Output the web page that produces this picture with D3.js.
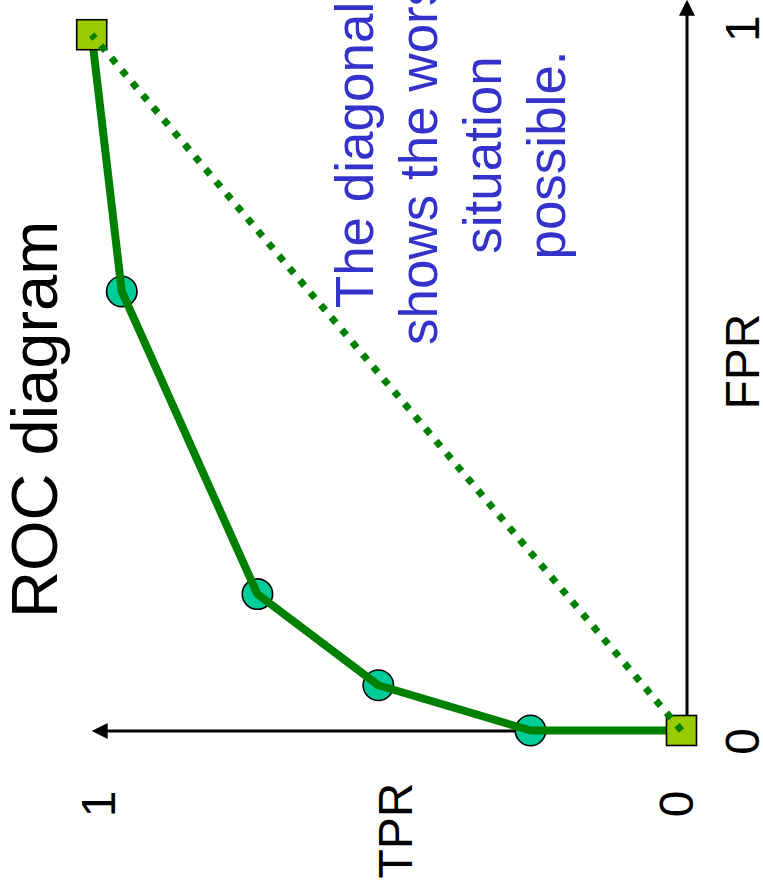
<!DOCTYPE html>
<html>
<head>
<meta charset="utf-8">
<script src="https://cdn.jsdelivr.net/npm/d3@7"></script>
<style>
  html, body { margin: 0; padding: 0; background: #ffffff; }
  svg { display: block; }
  text { font-family: "Liberation Sans", Arial, Helvetica, sans-serif; }
</style>
</head>
<body>
<script>
// ROC points (false positive rate vs. true positive rate)
const fpr = [0, 0, 0.065, 0.196, 0.631, 1];
const tpr = [0, 0.256, 0.514, 0.719, 0.949, 1];
const markerShape = ["square", "circle", "circle", "circle", "circle", "square"];

// Chance diagonal
const diagFpr = [0, 1];
const diagTpr = [0, 1];

const fprTicks = [0, 1];
const tprTicks = [0, 1];
const fprTickLabels = ["0", "1"];
const tprTickLabels = ["0", "1"];

const titleText = "ROC diagram";
const xAxisTitle = "FPR";
const yAxisTitle = "TPR";
const noteLines = ["The diagonal", "shows the worst", "situation", "possible."];

const W = 763, H = 889;

const svg = d3.select("body").append("svg")
  .attr("width", W)
  .attr("height", H);

// The whole diagram is laid out sideways: draw in a normal frame, then turn it
// a quarter turn counter-clockwise.
const g = svg.append("g")
  .attr("transform", `translate(0,${H}) rotate(-90)`);

const x = d3.scaleLinear().domain([0, 1]).range([158.5, 854.3]);
const y = d3.scaleLinear().domain([0, 1]).range([681.5, 91.7]);

const axisV = y(0) + 5.5;   // horizontal (FPR) axis line
const axisU = x(0) - 0.5;   // vertical (TPR) axis line

// Axes with arrow heads
g.append("line")
  .attr("x1", axisU).attr("y1", axisV)
  .attr("x2", x(1) + 20).attr("y2", axisV)
  .attr("stroke", "#000").attr("stroke-width", 3);
g.append("path")
  .attr("d", `M${x(1) + 35},${axisV} L${x(1) + 19},${axisV - 8} L${x(1) + 19},${axisV + 8} Z`)
  .attr("fill", "#000");

g.append("line")
  .attr("x1", axisU).attr("y1", axisV)
  .attr("x2", axisU).attr("y2", y(1) + 14)
  .attr("stroke", "#000").attr("stroke-width", 3);
g.append("path")
  .attr("d", `M${axisU},${y(1)} L${axisU - 8},${y(1) + 16} L${axisU + 8},${y(1) + 16} Z`)
  .attr("fill", "#000");

// Tick labels
g.selectAll("text.fpr-tick")
  .data(fprTicks)
  .join("text")
  .attr("class", "fpr-tick")
  .attr("x", (d) => x(d) + (d === 0 ? -11 : 6))
  .attr("y", 759)
  .attr("text-anchor", "middle")
  .attr("font-size", 48)
  .attr("fill", "#000")
  .text((d, i) => fprTickLabels[i]);

g.selectAll("text.tpr-tick")
  .data(tprTicks)
  .join("text")
  .attr("class", "tpr-tick")
  .attr("x", 85)
  .attr("y", (d) => y(d) + (d === 0 ? 11.5 : 23))
  .attr("text-anchor", "middle")
  .attr("font-size", 48)
  .attr("fill", "#000")
  .text((d, i) => tprTickLabels[i]);

// Axis titles
g.append("text")
  .attr("x", 527.5).attr("y", 759)
  .attr("text-anchor", "middle")
  .attr("font-size", 48)
  .attr("fill", "#000")
  .text(xAxisTitle);

g.append("text")
  .attr("x", 58.5).attr("y", 412)
  .attr("text-anchor", "middle")
  .attr("font-size", 48)
  .attr("fill", "#000")
  .text(yAxisTitle);

// Title
g.append("text")
  .attr("x", 271).attr("y", 57)
  .attr("font-size", 65)
  .attr("fill", "#000")
  .text(titleText);

// Note about the diagonal
g.append("g")
  .selectAll("text")
  .data(noteLines)
  .join("text")
  .attr("x", 734)
  .attr("y", (d, i) => 373 + i * 64)
  .attr("text-anchor", "middle")
  .attr("font-size", 53)
  .attr("fill", "#3333cc")
  .text((d) => d);

const pts = fpr.map((f, i) => ({ f, t: tpr[i], shape: markerShape[i] }));

// Intermediate operating points
g.selectAll("circle.pt")
  .data(pts.filter((p) => p.shape === "circle"))
  .join("circle")
  .attr("class", "pt")
  .attr("cx", (p) => x(p.f))
  .attr("cy", (p) => y(p.t))
  .attr("r", 15.2)
  .attr("fill", "#00cc99")
  .attr("stroke", "#000")
  .attr("stroke-width", 1.6);

// ROC curve
const line = d3.line().x((p) => x(p.f)).y((p) => y(p.t));
g.append("path")
  .datum(pts)
  .attr("d", line)
  .attr("fill", "none")
  .attr("stroke", "#008000")
  .attr("stroke-width", 8)
  .attr("stroke-linejoin", "round");

// End points
g.selectAll("rect.pt")
  .data(pts.filter((p) => p.shape === "square"))
  .join("rect")
  .attr("class", "pt")
  .attr("x", (p) => x(p.f) - 15)
  .attr("y", (p) => y(p.t) - 15)
  .attr("width", 30)
  .attr("height", 30)
  .attr("fill", "#99cc00")
  .attr("stroke", "#000")
  .attr("stroke-width", 1.6);

// Dotted diagonal
g.append("path")
  .datum(diagFpr.map((f, i) => ({ f, t: diagTpr[i] })))
  .attr("d", line)
  .attr("fill", "none")
  .attr("stroke", "#008000")
  .attr("stroke-width", 7)
  .attr("stroke-dasharray", "7 9.2");
</script>
</body>
</html>
